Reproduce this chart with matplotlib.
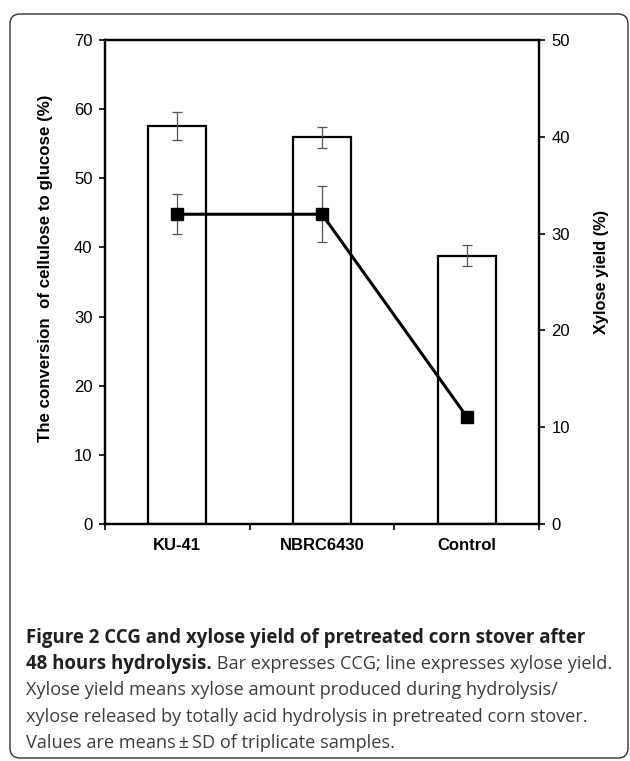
#!/usr/bin/env python3
"""CCG and xylose yield of pretreated corn stover after 48 h hydrolysis."""

import numpy as np
import matplotlib.pyplot as plt
from matplotlib.patches import FancyBboxPatch

# data
strains = ['KU-41', 'NBRC6430', 'Control']
ccg = [57.6, 55.9, 38.8]          # conversion of cellulose to glucose (%)
ccg_sd = [2.0, 1.5, 1.5]
xylose = [32.0, 32.0, 11.1]       # xylose yield (%)
xylose_sd = [2.05, 2.9, 0.5]

caption_bold_1 = 'Figure 2 CCG and xylose yield of pretreated corn stover after'
caption_bold_2 = '48 hours hydrolysis.'
caption_rest_2 = ' Bar expresses CCG; line expresses xylose yield.'
caption_lines = [
    'Xylose yield means xylose amount produced during hydrolysis/',
    'xylose released by totally acid hydrolysis in pretreated corn stover.',
    'Values are means\u2009\u00b1\u2009SD of triplicate samples.',
]

plt.rcParams['font.family'] = ['Liberation Sans', 'DejaVu Sans']

fig = plt.figure(figsize=(6.3, 7.61), dpi=100)
ax = fig.add_axes([105 / 630, 1 - 524 / 761, 434 / 630, 484 / 761])
ax2 = ax.twinx()

x = np.arange(len(strains))
ax.bar(x, ccg, width=0.40, color='white', edgecolor='black', linewidth=1.6, zorder=2)
ax.errorbar(x, ccg, yerr=ccg_sd, fmt='none', ecolor='#555555', elinewidth=0.9,
            capsize=3.5, capthick=0.9, zorder=3)

ax2.errorbar(x, xylose, yerr=xylose_sd, fmt='none', ecolor='#555555', elinewidth=0.9,
             capsize=3.5, capthick=0.9, zorder=2)
ax2.plot(x, xylose, color='black', linewidth=2.2, marker='s', markersize=8,
         markerfacecolor='black', zorder=3)

ax.set_xlim(-0.5, 2.5)
ax.set_ylim(0, 70)
ax2.set_ylim(0, 50)
ax.set_yticks(np.arange(0, 71, 10))
ax2.set_yticks(np.arange(0, 51, 10))

# Excel-style category axis: ticks between categories, labels centred
ax.set_xticks([-0.5, 0.5, 1.5, 2.5])
ax.set_xticklabels([])
ax.set_xticks(x, minor=True)
ax.set_xticklabels(strains, minor=True, fontweight='bold', fontsize=12)
ax.tick_params(axis='x', which='minor', length=0, pad=10)
ax.tick_params(axis='x', which='major', length=4, width=1.2, direction='out')
ax.tick_params(axis='y', length=4, width=1.2, direction='out', labelsize=12, pad=5)
ax2.tick_params(axis='y', length=4, width=1.2, direction='out', labelsize=12, pad=5)

for a in (ax, ax2):
    for s in a.spines.values():
        s.set_linewidth(1.6)

ax.set_ylabel('The conversion  of cellulose to glucose (%)', fontweight='bold',
              fontsize=12.2)
ax2.set_ylabel('Xylose yield (%)', fontweight='bold', fontsize=11.8)
ax.yaxis.set_label_coords(-52 / 434, 0.529)
ax2.yaxis.set_label_coords(1 + 55 / 434, 0.52)

# rounded frame around the figure panel
frame = FancyBboxPatch((0.10, 0.03), 6.18, 7.44,
                       boxstyle='round,pad=0,rounding_size=0.10',
                       transform=fig.dpi_scale_trans, facecolor='none',
                       edgecolor='#333333', linewidth=1.0)
fig.patches.append(frame)

# caption
cap_font = ['Open Sans', 'DejaVu Sans']
bold_size = 13.4
text_size = 13.1
x0 = 26 / 630
fig.text(x0, 1 - 643 / 761, caption_bold_1, family=cap_font, fontsize=bold_size,
         fontweight='bold', color='#231f20', va='baseline')
t = fig.text(x0, 1 - 669 / 761, caption_bold_2, family=cap_font, fontsize=bold_size,
             fontweight='bold', color='#231f20', va='baseline')
renderer = fig.canvas.get_renderer()
bb = t.get_window_extent(renderer=renderer)
fig.text(bb.x1 / fig.bbox.width, 1 - 669 / 761, caption_rest_2, family=cap_font,
         fontsize=text_size, color='#3c3c3c', va='baseline')
for i, line in enumerate(caption_lines):
    fig.text(x0, 1 - (695 + 26.5 * i) / 761, line, family=cap_font, fontsize=text_size,
             color='#3c3c3c', va='baseline')

fig.savefig('out.png', dpi=100)
